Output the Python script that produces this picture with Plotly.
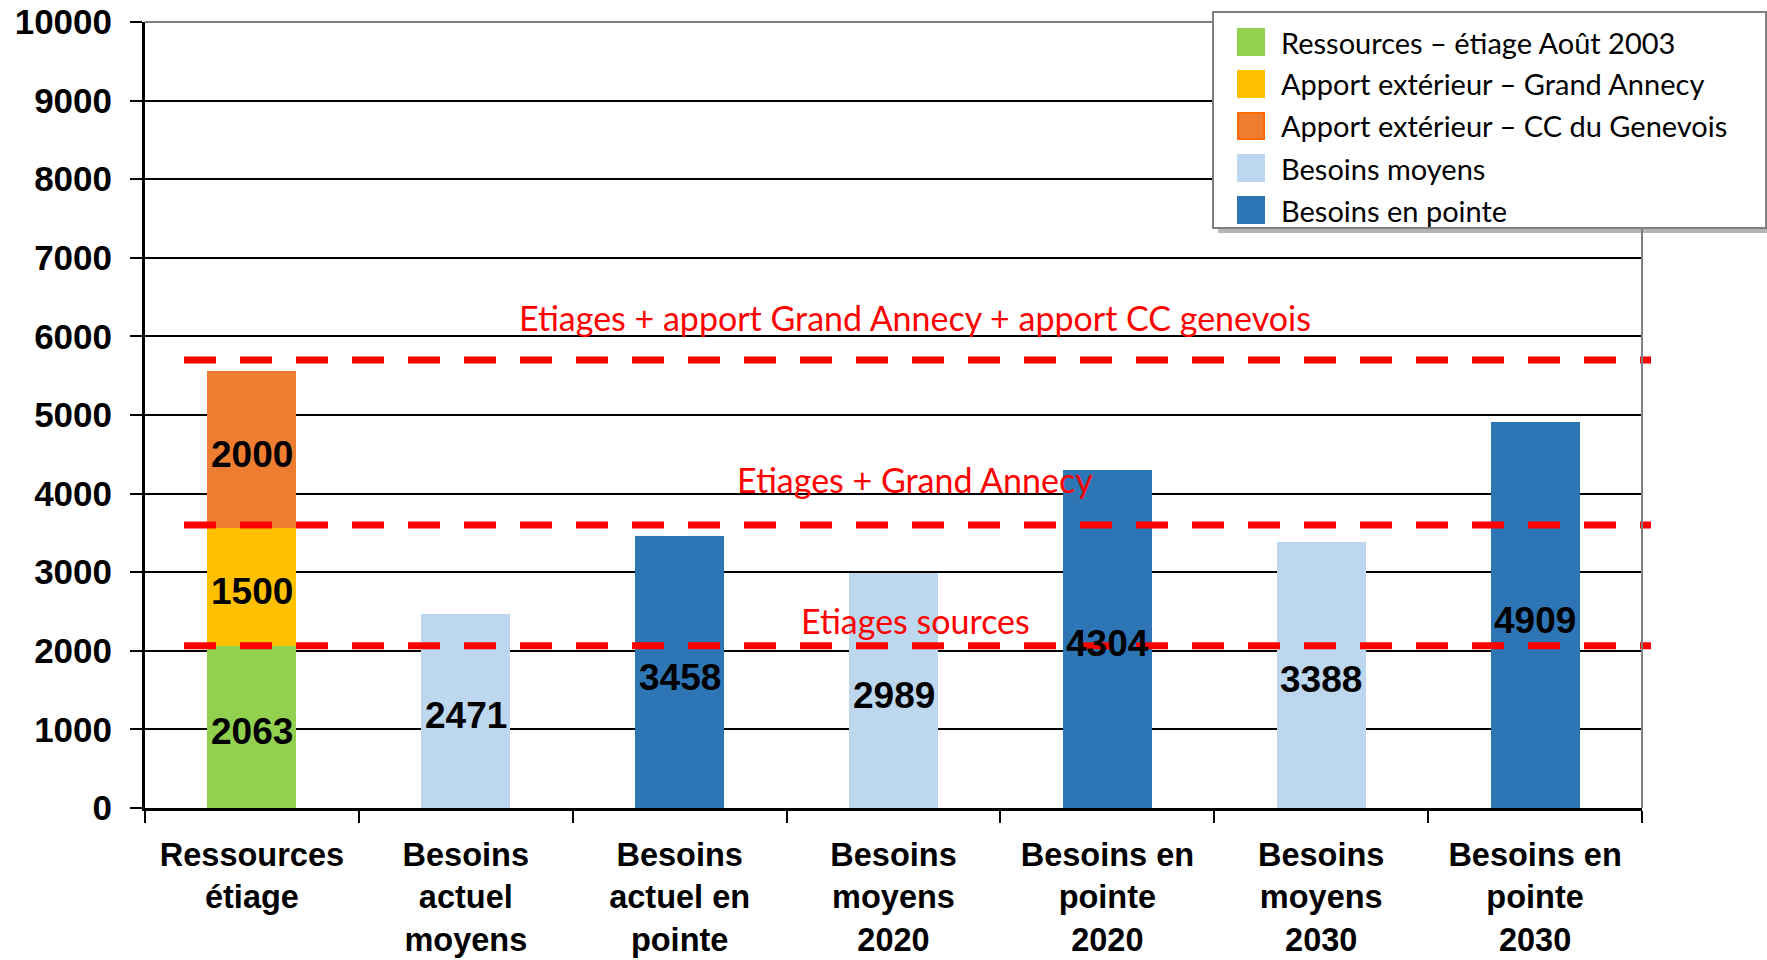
import plotly.graph_objects as go

# ---- data -------------------------------------------------------------
categories = [
    "Ressources<br>étiage",
    "Besoins<br>actuel<br>moyens",
    "Besoins<br>actuel en<br>pointe",
    "Besoins<br>moyens<br>2020",
    "Besoins en<br>pointe<br>2020",
    "Besoins<br>moyens<br>2030",
    "Besoins en<br>pointe<br>2030",
]

ressources_etiage = [2063]
apport_grand_annecy = [1500]
apport_cc_genevois = [2000]

moyens_categories = [categories[1], categories[3], categories[5]]
besoins_moyens = [2471, 2989, 3388]

pointe_categories = [categories[2], categories[4], categories[6]]
besoins_pointe = [3458, 4304, 4909]

seuils = [2063, 3600, 5700]
seuils_labels = [
    "Etiages sources",
    "Etiages + Grand Annecy",
    "Etiages + apport Grand Annecy + apport CC genevois",
]
seuils_label_y = [2390, 4185, 6235]

legend_labels = [
    "Ressources – étiage Août 2003",
    "Apport extérieur – Grand Annecy",
    "Apport extérieur – CC du Genevois",
    "Besoins moyens",
    "Besoins en pointe",
]

y_ticks = list(range(0, 10001, 1000))
y_tick_text = [str(v) for v in y_ticks]

# ---- styles -----------------------------------------------------------
GREEN = "#92D050"
YELLOW = "#FFC000"
ORANGE = "#ED7D31"
LIGHT_BLUE = "#BDD7EE"
DARK_BLUE = "#2E75B6"
RED = "#FF0000"
legend_colors = [GREEN, YELLOW, ORANGE, LIGHT_BLUE, DARK_BLUE]

W, H = 1767, 960
L, R, T, B = 145, 1642, 22, 808  # plot area in pixels


def px(x):
    return (x - L) / (R - L)


def py(y):
    return (B - y) / (B - T)


fig = go.Figure()

bar_kw = dict(width=0.416, showlegend=False, hoverinfo="skip", marker_line_width=0)
fig.add_trace(go.Bar(x=[categories[0]], y=ressources_etiage, marker_color=GREEN, **bar_kw))
fig.add_trace(go.Bar(x=[categories[0]], y=apport_grand_annecy, marker_color=YELLOW, **bar_kw))
fig.add_trace(go.Bar(x=[categories[0]], y=apport_cc_genevois, marker_color=ORANGE, **bar_kw))
fig.add_trace(go.Bar(x=moyens_categories, y=besoins_moyens, marker_color=LIGHT_BLUE, **bar_kw))
fig.add_trace(go.Bar(x=pointe_categories, y=besoins_pointe, marker_color=DARK_BLUE, **bar_kw))

annotations = []

# value labels centred in each segment
stack_vals = ressources_etiage + apport_grand_annecy + apport_cc_genevois
stack_mid = []
base = 0
for v in stack_vals:
    stack_mid.append(base + v / 2)
    base += v
lab_x = [categories[0]] * 3 + moyens_categories + pointe_categories
lab_y = stack_mid + [v / 2 for v in besoins_moyens] + [v / 2 for v in besoins_pointe]
lab_t = [str(v) for v in stack_vals + besoins_moyens + besoins_pointe]
for lx, ly, lt in zip(lab_x, lab_y, lab_t):
    annotations.append(dict(x=lx, y=ly, xref="x", yref="y", text=lt, showarrow=False,
                            yshift=-5, xanchor="center", yanchor="middle",
                            font=dict(family="Liberation Sans", size=37, color="black",
                                      weight="bold")))

shapes = []
# dashed threshold lines
for s in seuils:
    shapes.append(dict(type="line", xref="paper", yref="y", x0=px(184), x1=px(1651), y0=s, y1=s,
                       line=dict(color=RED, width=7, dash="32px,24px"), layer="above"))
# top and right frame
shapes.append(dict(type="line", xref="paper", yref="paper", x0=0, x1=1, y0=1, y1=1,
                   line=dict(color="#808080", width=2), layer="above"))
shapes.append(dict(type="line", xref="paper", yref="paper", x0=1, x1=1, y0=0, y1=1,
                   line=dict(color="#808080", width=2), layer="above"))

for lbl, ly in zip(seuils_labels, seuils_label_y):
    annotations.append(dict(x=px(915), xref="paper", y=ly, yref="y", text=lbl, showarrow=False,
                            font=dict(family="Lato", size=34, color=RED),
                            xanchor="center", yanchor="middle"))

# legend box
lx0, lx1, ly0, ly1 = 1213, 1766, 12, 228
shapes.append(dict(type="rect", xref="paper", yref="paper", x0=px(lx0 + 5), x1=px(lx1 + 5),
                   y0=py(ly1 + 5), y1=py(ly0 + 5), line=dict(width=0),
                   fillcolor="rgba(120,120,120,0.55)", layer="above"))
shapes.append(dict(type="rect", xref="paper", yref="paper", x0=px(lx0), x1=px(lx1),
                   y0=py(ly1), y1=py(ly0), line=dict(color="#7F7F7F", width=2),
                   fillcolor="white", layer="above"))
rows = [42, 84, 126, 168, 210]
for lbl, col, ry in zip(legend_labels, legend_colors, rows):
    edge = "#FF6A00" if col == ORANGE else col
    shapes.append(dict(type="rect", xref="paper", yref="paper", x0=px(1238), x1=px(1264),
                       y0=py(ry + 13), y1=py(ry - 13), line=dict(color=edge, width=2),
                       fillcolor=col, layer="above"))
    annotations.append(dict(x=px(1279), xref="paper", y=py(ry), yref="paper", text=lbl,
                            showarrow=False, xanchor="left", yanchor="middle",
                            font=dict(family="Lato", size=29, color="black")))

fig.update_layout(
    width=W, height=H,
    margin=dict(l=L, r=W - R, t=T, b=H - B, pad=0, autoexpand=False),
    paper_bgcolor="white", plot_bgcolor="white",
    barmode="stack", showlegend=False,
    shapes=shapes, annotations=annotations,
    font=dict(family="Liberation Sans", color="black"),
)
fig.update_xaxes(
    type="category", categoryorder="array", categoryarray=categories,
    tickson="boundaries", ticks="outside", ticklen=12, tickwidth=2, tickcolor="black",
    showline=True, linecolor="black", linewidth=3, showgrid=False, automargin=False,
    tickfont=dict(family="Liberation Sans", size=32.5, color="black", weight="bold"),
    ticklabelstandoff=16, range=[-0.5, 6.5],
)
fig.update_yaxes(
    range=[0, 10000], tickvals=y_ticks, ticktext=y_tick_text, ticks="outside", ticklen=12,
    tickwidth=2, tickcolor="black", showline=True, linecolor="black", linewidth=3,
    showgrid=True, gridcolor="black", gridwidth=2, zeroline=False, automargin=False,
    tickfont=dict(family="Liberation Sans", size=35, color="black", weight="bold"),
    ticklabelstandoff=11,
)

fig.write_html("out.html")
